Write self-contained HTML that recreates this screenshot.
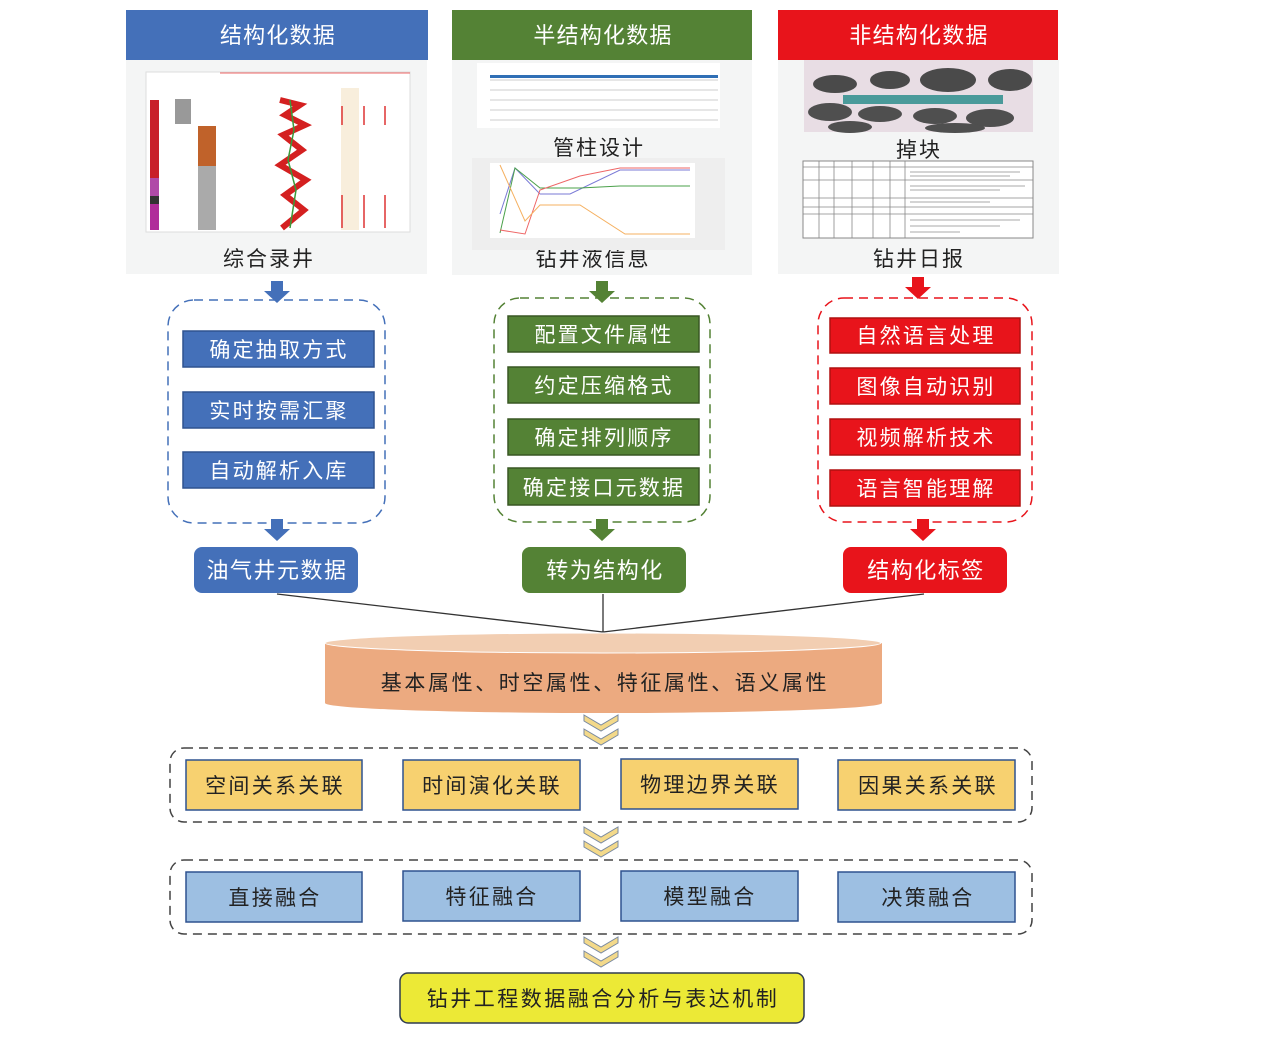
<!DOCTYPE html>
<html><head><meta charset="utf-8"><style>
html,body{margin:0;padding:0;background:#fff;}
svg{display:block;}
text{font-family:"Liberation Sans","Noto Sans CJK SC",sans-serif;}
</style></head><body>
<svg width="1268" height="1037" viewBox="0 0 1268 1037" xmlns="http://www.w3.org/2000/svg">
<defs>
<g id="chev"><path d="M-17,0 L0,10 L17,0 L17,6 L0,16 L-17,6 Z" fill="#f3d98a" stroke="#7a8aa0" stroke-width="1"/></g>
</defs>
<!-- Top panels -->
<rect x="126" y="60" width="301" height="214" fill="#f4f5f5"/>
<rect x="452" y="60" width="300" height="215" fill="#f4f5f5"/>
<rect x="778" y="60" width="281" height="214" fill="#f4f5f5"/>
<rect x="126" y="10" width="302" height="50" fill="#4470b9"/>
<rect x="452" y="10" width="300" height="50" fill="#548235"/>
<rect x="778" y="10" width="280" height="50" fill="#e8141b"/>
<g font-size="22" fill="#fff" text-anchor="middle" letter-spacing="1.2">
<text x="278" y="43">结构化数据</text>
<text x="603" y="43">半结构化数据</text>
<text x="919" y="43">非结构化数据</text>
</g>
<!-- log image -->
<rect x="146" y="72" width="264" height="160" fill="#fff" stroke="#ddd"/>
<rect x="150" y="100" width="9" height="78" fill="#c8202a"/>
<rect x="150" y="178" width="9" height="18" fill="#b04aa8"/>
<rect x="150" y="196" width="9" height="8" fill="#333"/>
<rect x="150" y="204" width="9" height="26" fill="#b02d9a"/>
<rect x="175" y="99" width="16" height="25" fill="#999"/>
<rect x="198" y="126" width="18" height="40" fill="#c0622a"/>
<rect x="198" y="166" width="18" height="64" fill="#aaa"/>
<path d="M280,100 L300,105 L285,115 L305,125 L283,135 L302,150 L280,165 L306,180 L285,195 L304,210 L282,228" stroke="#d42020" stroke-width="6" fill="none"/>
<path d="M290,100 L294,130 L288,160 L296,190 L290,228" stroke="#3a9a3a" stroke-width="1.5" fill="none"/>
<rect x="341" y="88" width="18" height="142" fill="#f8eedc"/>
<path d="M342,106 V125 M364,106 V125 M385,106 V125 M342,195 V228 M364,195 V228 M385,195 V228" stroke="#d33" stroke-width="1.5"/>
<line x1="220" y1="73" x2="410" y2="73" stroke="#e66" stroke-width="1"/>
<g font-size="21" fill="#222" text-anchor="middle" letter-spacing="2">
<text x="269" y="266">综合录井</text>
<text x="599" y="155">管柱设计</text>
<text x="593" y="266">钻井液信息</text>
<text x="919" y="157">掉块</text>
<text x="919" y="266">钻井日报</text>
</g>
<!-- semi table -->
<rect x="477" y="63" width="243" height="65" fill="#fff"/>
<rect x="490" y="75" width="228" height="3" fill="#2f6fb5"/>
<path d="M490,80 H718 M490,90 H718 M490,100 H718 M490,110 H718 M490,120 H718" stroke="#ccc" stroke-width="1"/>
<rect x="472" y="158" width="253" height="92" fill="#eeeeee"/>
<rect x="490" y="163" width="205" height="75" fill="#fff"/>
<path d="M500,214 L515,168 L540,194 L570,194 L620,170 L690,170" stroke="#7a7ad6" fill="none"/>
<path d="M500,233 L515,168 L540,188 L580,188 L620,186 L690,186" stroke="#4aa04a" fill="none"/>
<path d="M500,230 L525,234 L540,190 L580,176 L620,168 L690,168" stroke="#e66" fill="none"/>
<path d="M500,165 L525,221 L540,205 L580,205 L625,234 L690,234" stroke="#f5b060" fill="none"/>
<!-- rocks -->
<rect x="804" y="60" width="229" height="72" fill="#e8dde4"/>
<ellipse cx="835" cy="84" rx="22" ry="9" fill="#4a4a4a"/><ellipse cx="890" cy="80" rx="20" ry="9" fill="#4a4a4a"/>
<ellipse cx="948" cy="80" rx="28" ry="12" fill="#4a4a4a"/><ellipse cx="1010" cy="80" rx="22" ry="11" fill="#4a4a4a"/>
<rect x="843" y="95" width="160" height="9" fill="#4a9a9a"/>
<ellipse cx="830" cy="112" rx="22" ry="9" fill="#4f4f4f"/><ellipse cx="880" cy="114" rx="22" ry="8" fill="#4f4f4f"/>
<ellipse cx="935" cy="116" rx="22" ry="8" fill="#4f4f4f"/><ellipse cx="990" cy="118" rx="24" ry="9" fill="#4f4f4f"/>
<ellipse cx="850" cy="127" rx="22" ry="6" fill="#4f4f4f"/><ellipse cx="955" cy="128" rx="30" ry="5" fill="#4f4f4f"/>
<rect x="803" y="161" width="230" height="77" fill="#fff" stroke="#888"/>
<path d="M803,167 H1033 M803,180 H1033 M803,198 H1033 M803,207 H1033 M803,214 H1033 M819,161 V238 M834,161 V238 M852,161 V238 M873,161 V238 M890,161 V238 M905,161 V238" stroke="#888" stroke-width="0.8"/>
<path d="M910,172 H1020 M910,176 H1010 M910,186 H1025 M910,190 H1000 M910,202 H990 M910,220 H1020 M910,226 H1000 M910,232 H960" stroke="#aaa" stroke-width="1"/>
<!-- down arrows -->
<path d="M271,281 h12 v10 h7 l-13,12 l-13,-12 h7 z" fill="#4470b9"/>
<path d="M596,281 h12 v10 h7 l-13,12 l-13,-12 h7 z" fill="#548235"/>
<path d="M912,277 h12 v10 h7 l-13,12 l-13,-12 h7 z" fill="#e8141b"/>
<path d="M271,519 h12 v10 h7 l-13,12 l-13,-12 h7 z" fill="#4470b9"/>
<path d="M596,519 h12 v10 h7 l-13,12 l-13,-12 h7 z" fill="#548235"/>
<path d="M917,519 h12 v10 h7 l-13,12 l-13,-12 h7 z" fill="#e8141b"/>
<!-- dashed groups -->
<rect x="168" y="300" width="217" height="223" rx="26" fill="none" stroke="#4470b9" stroke-width="1.5" stroke-dasharray="9,6"/>
<rect x="494" y="298" width="216" height="224" rx="26" fill="none" stroke="#548235" stroke-width="1.5" stroke-dasharray="9,6"/>
<rect x="818" y="298" width="214" height="224" rx="26" fill="none" stroke="#e8141b" stroke-width="1.5" stroke-dasharray="9,6"/>
<g font-size="21" fill="#fff" text-anchor="middle" letter-spacing="2.2">
<rect x="183" y="331" width="191" height="36" fill="#4470b9" stroke="#2f528f" stroke-width="1.5"/><text x="279" y="357">确定抽取方式</text>
<rect x="183" y="392" width="191" height="36" fill="#4470b9" stroke="#2f528f" stroke-width="1.5"/><text x="279" y="418">实时按需汇聚</text>
<rect x="183" y="452" width="191" height="36" fill="#4470b9" stroke="#2f528f" stroke-width="1.5"/><text x="279" y="478">自动解析入库</text>
<rect x="508" y="316" width="191" height="36" fill="#548235" stroke="#385723" stroke-width="1.5"/><text x="604" y="342">配置文件属性</text>
<rect x="508" y="367" width="191" height="36" fill="#548235" stroke="#385723" stroke-width="1.5"/><text x="604" y="393">约定压缩格式</text>
<rect x="508" y="419" width="191" height="36" fill="#548235" stroke="#385723" stroke-width="1.5"/><text x="604" y="445">确定排列顺序</text>
<rect x="508" y="468" width="191" height="37" fill="#548235" stroke="#385723" stroke-width="1.5"/><text x="604" y="495">确定接口元数据</text>
<rect x="830" y="318" width="190" height="35" fill="#e8141b" stroke="#b01010" stroke-width="1.5"/><text x="926" y="343">自然语言处理</text>
<rect x="830" y="368" width="190" height="36" fill="#e8141b" stroke="#b01010" stroke-width="1.5"/><text x="926" y="394">图像自动识别</text>
<rect x="830" y="419" width="190" height="36" fill="#e8141b" stroke="#b01010" stroke-width="1.5"/><text x="926" y="445">视频解析技术</text>
<rect x="830" y="470" width="190" height="36" fill="#e8141b" stroke="#b01010" stroke-width="1.5"/><text x="926" y="496">语言智能理解</text>
<rect x="194" y="547" width="164" height="46" rx="8" fill="#4470b9"/><text x="277" y="578" font-size="22" letter-spacing="1.5">油气井元数据</text>
<rect x="522" y="547" width="164" height="46" rx="8" fill="#548235"/><text x="605" y="578" font-size="22" letter-spacing="1.5">转为结构化</text>
<rect x="843" y="547" width="164" height="46" rx="8" fill="#e8141b"/><text x="926" y="578" font-size="22" letter-spacing="1.5">结构化标签</text>
</g>
<!-- connector lines -->
<path d="M277,594 L603,632 M603,594 L603,632 M924,594 L603,632" stroke="#333" stroke-width="1.3" fill="none"/>
<!-- cylinder -->
<path d="M325,643 V703 A278,10 0 0 0 882,703 V643 Z" fill="#ecaa80"/>
<ellipse cx="603" cy="643" rx="278" ry="10" fill="#f2ceb2" stroke="#fff" stroke-width="1"/>
<text x="605" y="690" font-size="21" fill="#222" text-anchor="middle" letter-spacing="2.6">基本属性、时空属性、特征属性、语义属性</text>
<!-- chevrons -->
<use href="#chev" x="601" y="715"/><use href="#chev" x="601" y="729"/>
<use href="#chev" x="601" y="827"/><use href="#chev" x="601" y="841"/>
<use href="#chev" x="601" y="937"/><use href="#chev" x="601" y="951"/>
<!-- row 1 -->
<rect x="170" y="748" width="862" height="74" rx="14" fill="none" stroke="#444" stroke-width="1.5" stroke-dasharray="9,6"/>
<g font-size="21" fill="#222" text-anchor="middle" letter-spacing="2.3">
<rect x="186" y="760" width="176" height="50" fill="#f7d170" stroke="#2f528f" stroke-width="1.5"/><text x="275" y="793">空间关系关联</text>
<rect x="403" y="760" width="177" height="50" fill="#f7d170" stroke="#2f528f" stroke-width="1.5"/><text x="492" y="793">时间演化关联</text>
<rect x="621" y="759" width="177" height="50" fill="#f7d170" stroke="#2f528f" stroke-width="1.5"/><text x="710" y="792">物理边界关联</text>
<rect x="838" y="760" width="177" height="50" fill="#f7d170" stroke="#2f528f" stroke-width="1.5"/><text x="928" y="793">因果关系关联</text>
</g>
<!-- row 2 -->
<rect x="170" y="860" width="862" height="74" rx="14" fill="none" stroke="#444" stroke-width="1.5" stroke-dasharray="9,6"/>
<g font-size="21" fill="#222" text-anchor="middle" letter-spacing="2.3">
<rect x="186" y="872" width="176" height="50" fill="#9dbfe2" stroke="#2f528f" stroke-width="1.5"/><text x="275" y="905">直接融合</text>
<rect x="403" y="871" width="177" height="50" fill="#9dbfe2" stroke="#2f528f" stroke-width="1.5"/><text x="492" y="904">特征融合</text>
<rect x="621" y="871" width="177" height="50" fill="#9dbfe2" stroke="#2f528f" stroke-width="1.5"/><text x="710" y="904">模型融合</text>
<rect x="838" y="872" width="177" height="50" fill="#9dbfe2" stroke="#2f528f" stroke-width="1.5"/><text x="928" y="905">决策融合</text>
<rect x="400" y="973" width="404" height="50" rx="8" fill="#ece936" stroke="#2f3b50" stroke-width="1.5"/><text x="603" y="1006" letter-spacing="2.5">钻井工程数据融合分析与表达机制</text>
</g>
</svg>
</body></html>
